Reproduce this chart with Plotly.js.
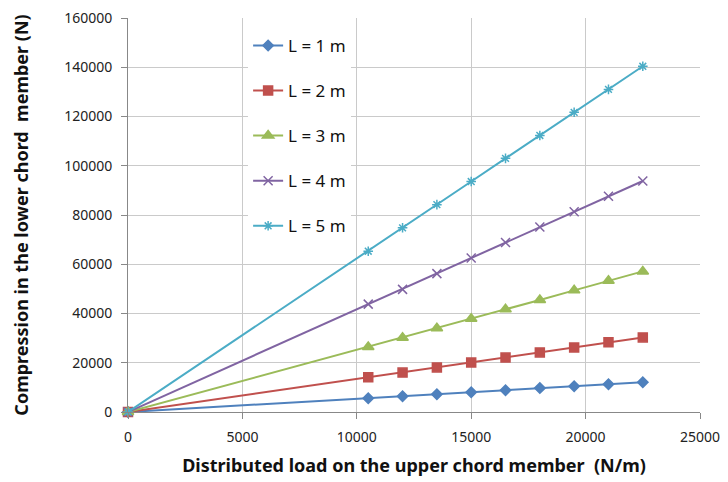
<!DOCTYPE html>
<html>
<head>
<meta charset="utf-8">
<script src="https://cdn.plot.ly/plotly-3.0.1.min.js"></script>
<style>html,body{margin:0;padding:0;background:#fff;}#chart{width:728px;height:482px;}</style>
</head>
<body>
<div id="chart"></div>
<script>
const loadX = [0, 10500, 12000, 13500, 15000, 16500, 18000, 19500, 21000, 22500];
const seriesNames = ["L = 1 m", "L = 2 m", "L = 3 m", "L = 4 m", "L = 5 m"];
const compL1 = [0, 5600, 6400, 7200, 8000, 8800, 9700, 10500, 11300, 12100];
const compL2 = [0, 14100, 16000, 18100, 20100, 22100, 24200, 26200, 28300, 30300];
const compL3 = [0, 26400, 30200, 34000, 37900, 41700, 45500, 49400, 53300, 57100];
const compL4 = [0, 43800, 49800, 56200, 62500, 68800, 75100, 81300, 87600, 93800];
const compL5 = [0, 65300, 74800, 84200, 93600, 103000, 112300, 121700, 131000, 140400];
const allY = [compL1, compL2, compL3, compL4, compL5];

const colors = ["#4F81BD", "#C0504D", "#9BBB59", "#8064A2", "#4BACC6"];
const symbols = ["diamond", "square", "triangle-up", "x-thin-open", "asterisk-open"];
const sizes = [8, 9, 10, 9, 8];

const traces = allY.map((ys, i) => ({
  x: loadX, y: ys, name: seriesNames[i], type: "scatter", mode: "lines+markers",
  legendgroup: "g" + i, cliponaxis: false,
  line: {color: colors[i], width: 2},
  marker: {symbol: symbols[i], size: sizes[i], color: colors[i], line: {color: colors[i], width: 1.5}}
}));

const layout = {
  width: 728, height: 482,
  margin: {l: 128, r: 28, t: 18, b: 70},
  paper_bgcolor: "#fff", plot_bgcolor: "#fff",
  font: {family: "Noto Sans, Open Sans, sans-serif", color: "#222", size: 13},
  showlegend: true,
  legend: {x: 0.21, y: 0.975, xanchor: "left", yanchor: "top", bgcolor: "#fff",
    borderwidth: 0, tracegroupgap: 20, itemwidth: 30, font: {size: 17, color: "#111"}},
  xaxis: {range: [0, 25000], dtick: 5000, tickformat: "d", showgrid: true, gridcolor: "#cacaca",
    showline: true, linecolor: "#888", linewidth: 1, zeroline: false,
    ticks: "outside", ticklen: 6, tickcolor: "#888", ticklabelstandoff: 6,
    tickfont: {size: 14, color: "#222"},
    title: {text: "Distributed load on the upper chord member  (N/m)", standoff: 14,
      font: {size: 18, color: "#111", family: "Noto Sans, sans-serif", weight: "bold"}}},
  yaxis: {range: [0, 160000], dtick: 20000, tickformat: "d", showgrid: true, gridcolor: "#cacaca",
    showline: true, linecolor: "#888", linewidth: 1, zeroline: false,
    ticks: "outside", ticklen: 6, tickcolor: "#888", ticklabelstandoff: 6,
    tickfont: {size: 14, color: "#222"},
    title: {text: "Compression in the lower chord  member (N)", standoff: 30,
      font: {size: 18, color: "#111", family: "Noto Sans, sans-serif", weight: "bold"}}}
};

Plotly.newPlot("chart", traces, layout, {displayModeBar: false, staticPlot: true});
</script>
</body>
</html>
